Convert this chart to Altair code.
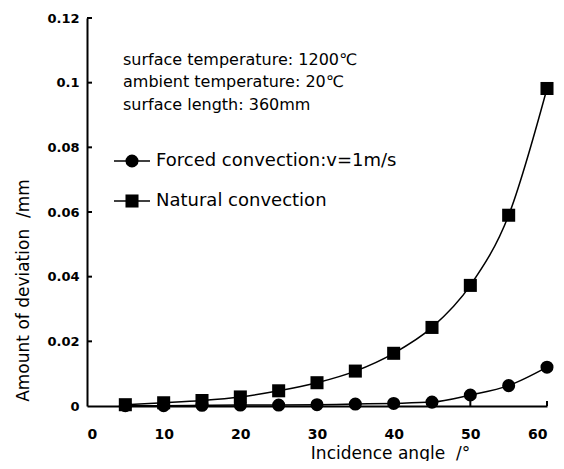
import altair as alt
import pandas as pd

angles = [5, 10, 15, 20, 25, 30, 35, 40, 45, 50, 55, 60]
forced = [0.0001, 0.0001, 0.0002, 0.0003, 0.0003, 0.0004, 0.0006, 0.0008, 0.0012, 0.0034, 0.0063, 0.0120]
natural = [0.0004, 0.0010, 0.0017, 0.0028, 0.0047, 0.0072, 0.0108, 0.0163, 0.0243, 0.0373, 0.0590, 0.0982]
series_names = ["Forced convection:v=1m/s", "Natural convection"]
series_shapes = ["circle", "square"]
x_ticks = [0, 10, 20, 30, 40, 50, 60]
y_ticks = [0, 0.02, 0.04, 0.06, 0.08, 0.1, 0.12]
notes = ["surface temperature: 1200\u2103", "ambient temperature: 20\u2103", "surface length: 360mm"]

W, H = 460, 388
FONT = "DejaVu Sans"

rows = []
for a, f, n in zip(angles, forced, natural):
    rows.append({"angle": a, "value": f, "series": series_names[0]})
    rows.append({"angle": a, "value": n, "series": series_names[1]})
df = pd.DataFrame(rows)

xs = alt.Scale(domain=[0, 60], nice=False)
ys = alt.Scale(domain=[0, 0.12], nice=False)
shape_scale = alt.Scale(domain=series_names, range=series_shapes)

x_enc = alt.X("angle:Q", scale=xs, axis=alt.Axis(
    values=x_ticks, ticks=False, grid=False, domainColor="black", domainWidth=2,
    labelFont=FONT, labelFontSize=14, labelFontWeight="bold", labelColor="black",
    labelPadding=21, title="Incidence angle\u00a0\u00a0/\u00b0", titleFont=FONT, titleFontSize=17,
    titleFontWeight="normal", titleColor="black", titleX=303, titleY=47,
    titleBaseline="middle"))
y_enc = alt.Y("value:Q", scale=ys, axis=alt.Axis(
    values=y_ticks, ticks=False, grid=False, domainColor="black", domainWidth=2,
    labelFont=FONT, labelFontSize=13, labelFontWeight="bold", labelColor="black",
    labelPadding=8, labelExpr="datum.value == 0 ? '0' : format(datum.value, '.2~f')",
    title="Amount of deviation\u00a0\u00a0/mm", titleFont=FONT, titleFontSize=17,
    titleFontWeight="normal", titleColor="black", titleX=-64, titleY=272,
    titleBaseline="middle"))

base = alt.Chart(df)
lines = base.mark_line(color="black", strokeWidth=1.5, interpolate="monotone").encode(
    x=x_enc, y=y_enc, detail="series:N")
points = base.mark_point(filled=True, color="black", opacity=1, size=170).encode(
    x=alt.X("angle:Q", scale=xs), y=alt.Y("value:Q", scale=ys),
    shape=alt.Shape("series:N", scale=shape_scale, legend=None))

yt = alt.Chart(pd.DataFrame({"t": y_ticks[1:]})).mark_rule(color="black", strokeWidth=2).encode(
    y=alt.Y("t:Q", scale=ys), x=alt.value(0), x2=alt.value(5))
xt = alt.Chart(pd.DataFrame({"t": x_ticks[1:]})).mark_rule(color="black", strokeWidth=2).encode(
    x=alt.X("t:Q", scale=xs), y=alt.value(H), y2=alt.value(H - 5))

layers = [lines, points, yt, xt]

note_y = [42, 64, 87]
for txt, yy in zip(notes, note_y):
    layers.append(alt.Chart(pd.DataFrame({"t": [txt]})).mark_text(
        align="left", baseline="middle", font=FONT, fontSize=16, color="black").encode(
        text="t:N", x=alt.value(36), y=alt.value(yy)))

leg_y = [143, 183]
for name, shp, yy in zip(series_names, series_shapes, leg_y):
    d = pd.DataFrame({"t": [name]})
    layers.append(alt.Chart(d).mark_rule(color="black", strokeWidth=1.5).encode(
        y=alt.value(yy), x=alt.value(27), x2=alt.value(63)))
    layers.append(alt.Chart(d).mark_point(filled=True, color="black", opacity=1, size=170,
                                          shape=shp).encode(
        y=alt.value(yy), x=alt.value(45)))
    layers.append(alt.Chart(d).mark_text(
        align="left", baseline="middle", font=FONT, fontSize=18, color="black").encode(
        y=alt.value(yy), x=alt.value(69), text="t:N"))

chart = alt.layer(*layers).properties(
    width=W, height=H, autosize=alt.AutoSizeParams(type="none"),
    padding={"left": 79, "top": 10, "right": 9, "bottom": 55},
    background="white").configure_view(stroke=None)

chart.save("out.html", embed_options={"renderer": "svg", "actions": False})
